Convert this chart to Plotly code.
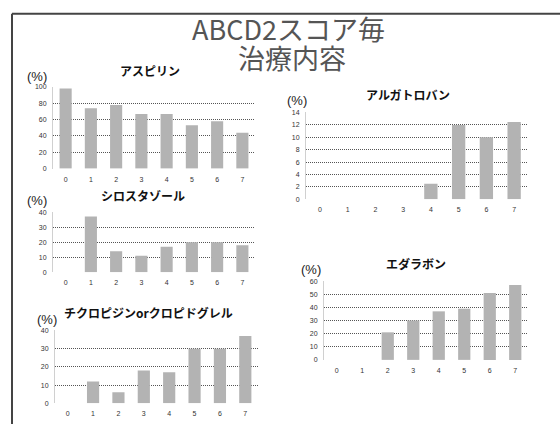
import plotly.graph_objects as go

W, H = 560, 424

# Score categories (ABCD2 score 0-7)
scores = ["0", "1", "2", "3", "4", "5", "6", "7"]

# Share of patients per score receiving each treatment (%)
aspirin = [98, 74, 78, 67, 67, 53, 58, 44]
cilostazol = [0, 37, 14, 11, 17, 20, 20, 18]
ticlopidine_clopidogrel = [0, 12, 6, 18, 17, 30, 30, 37]
argatroban = [0, 0, 0, 0, 2.5, 12, 10, 12.5]
edaravone = [0, 0, 21, 30, 37, 39, 51, 57]

titles = ["アスピリン", "シロスタゾール", "チクロピジンorクロピドグレル", "アルガトロバン", "エダラボン"]
series = [aspirin, cilostazol, ticlopidine_clopidogrel, argatroban, edaravone]
y_max = [100, 40, 40, 14, 60]
y_step = [20, 10, 10, 2, 10]

# panel boxes in pixels: (left, right, top, bottom)
boxes = [
    (53, 255, 85, 168),
    (53, 255, 212, 273),
    (55, 258, 332, 406),
    (306, 528, 111, 199),
    (324, 528, 282, 362),
]
# title centre (x, y) and "(%)" label position (x, y) in pixels
title_pos = [(150, 68), (143, 195), (148, 314), (408, 93), (416, 264)]
pct_pos = [(37, 75), (37, 200), (47, 321), (297, 99), (311, 270)]


def px(x):
    return x / W


def py(y):
    return 1 - y / H


fig = go.Figure()
annotations = []
FONT = "Noto Sans CJK JP, sans-serif"
TICKFONT = dict(size=7, color="#333", family="Liberation Sans, Arial")

for i, (name, vals) in enumerate(zip(titles, series)):
    n = i + 1
    xa = "x" if n == 1 else f"x{n}"
    ya = "y" if n == 1 else f"y{n}"
    fig.add_trace(go.Bar(
        x=scores, y=vals, xaxis=xa, yaxis=ya,
        marker=dict(color="#b3b3b3", line=dict(width=0)),
        showlegend=False, hoverinfo="skip",
    ))
    l, r, t, b = boxes[i]
    xkey = "xaxis" if n == 1 else f"xaxis{n}"
    ykey = "yaxis" if n == 1 else f"yaxis{n}"
    fig.layout[xkey] = dict(
        domain=[px(l), px(r)], anchor=ya, type="category",
        showgrid=False, zeroline=False, showline=False, ticks="",
        tickfont=TICKFONT, ticklabelstandoff=5, fixedrange=True,
    )
    fig.layout[ykey] = dict(
        domain=[py(b), py(t)], anchor=xa,
        range=[0, y_max[i] * 1.002], dtick=y_step[i], tick0=0,
        showgrid=True, gridcolor="#555", griddash="1px,1px", gridwidth=1,
        zeroline=False, showline=True, linecolor="#d0d0d0", linewidth=1,
        ticks="", tickfont=TICKFONT, ticklabelstandoff=4, fixedrange=True,
    )
    tx, ty = title_pos[i]
    annotations.append(dict(
        text=f"<b>{name}</b>", x=px(tx), y=py(ty), xref="paper", yref="paper",
        showarrow=False, xanchor="center", yanchor="middle",
        font=dict(size=12, color="#111", family=FONT),
    ))
    cx, cy = pct_pos[i]
    annotations.append(dict(
        text="(%)", x=px(cx), y=py(cy), xref="paper", yref="paper",
        showarrow=False, xanchor="center", yanchor="middle",
        font=dict(size=13, color="#222", family="Liberation Sans, Arial"),
    ))

# slide heading, two lines
annotations.append(dict(
    text="ABCD2スコア毎", x=px(288), y=py(26), xref="paper", yref="paper",
    showarrow=False, xanchor="center", yanchor="middle",
    font=dict(size=27, color="#555", family=FONT),
))
annotations.append(dict(
    text="治療内容", x=px(292), y=py(55), xref="paper", yref="paper",
    showarrow=False, xanchor="center", yanchor="middle",
    font=dict(size=27, color="#555", family=FONT),
))

# slide frame (top and left edges)
shapes = [
    dict(type="line", xref="paper", yref="paper", x0=px(12), x1=1.01, y0=py(11), y1=py(11),
         line=dict(color="#444", width=2)),
    dict(type="line", xref="paper", yref="paper", x0=px(12), x1=px(12), y0=py(11), y1=-0.01,
         line=dict(color="#444", width=2)),
]

fig.update_layout(
    width=W, height=H,
    margin=dict(l=0, r=0, t=0, b=0),
    paper_bgcolor="white", plot_bgcolor="white",
    bargap=0.52,
    annotations=annotations, shapes=shapes,
    font=dict(family=FONT),
)

fig.write_html("out.html", config={"displayModeBar": False})
